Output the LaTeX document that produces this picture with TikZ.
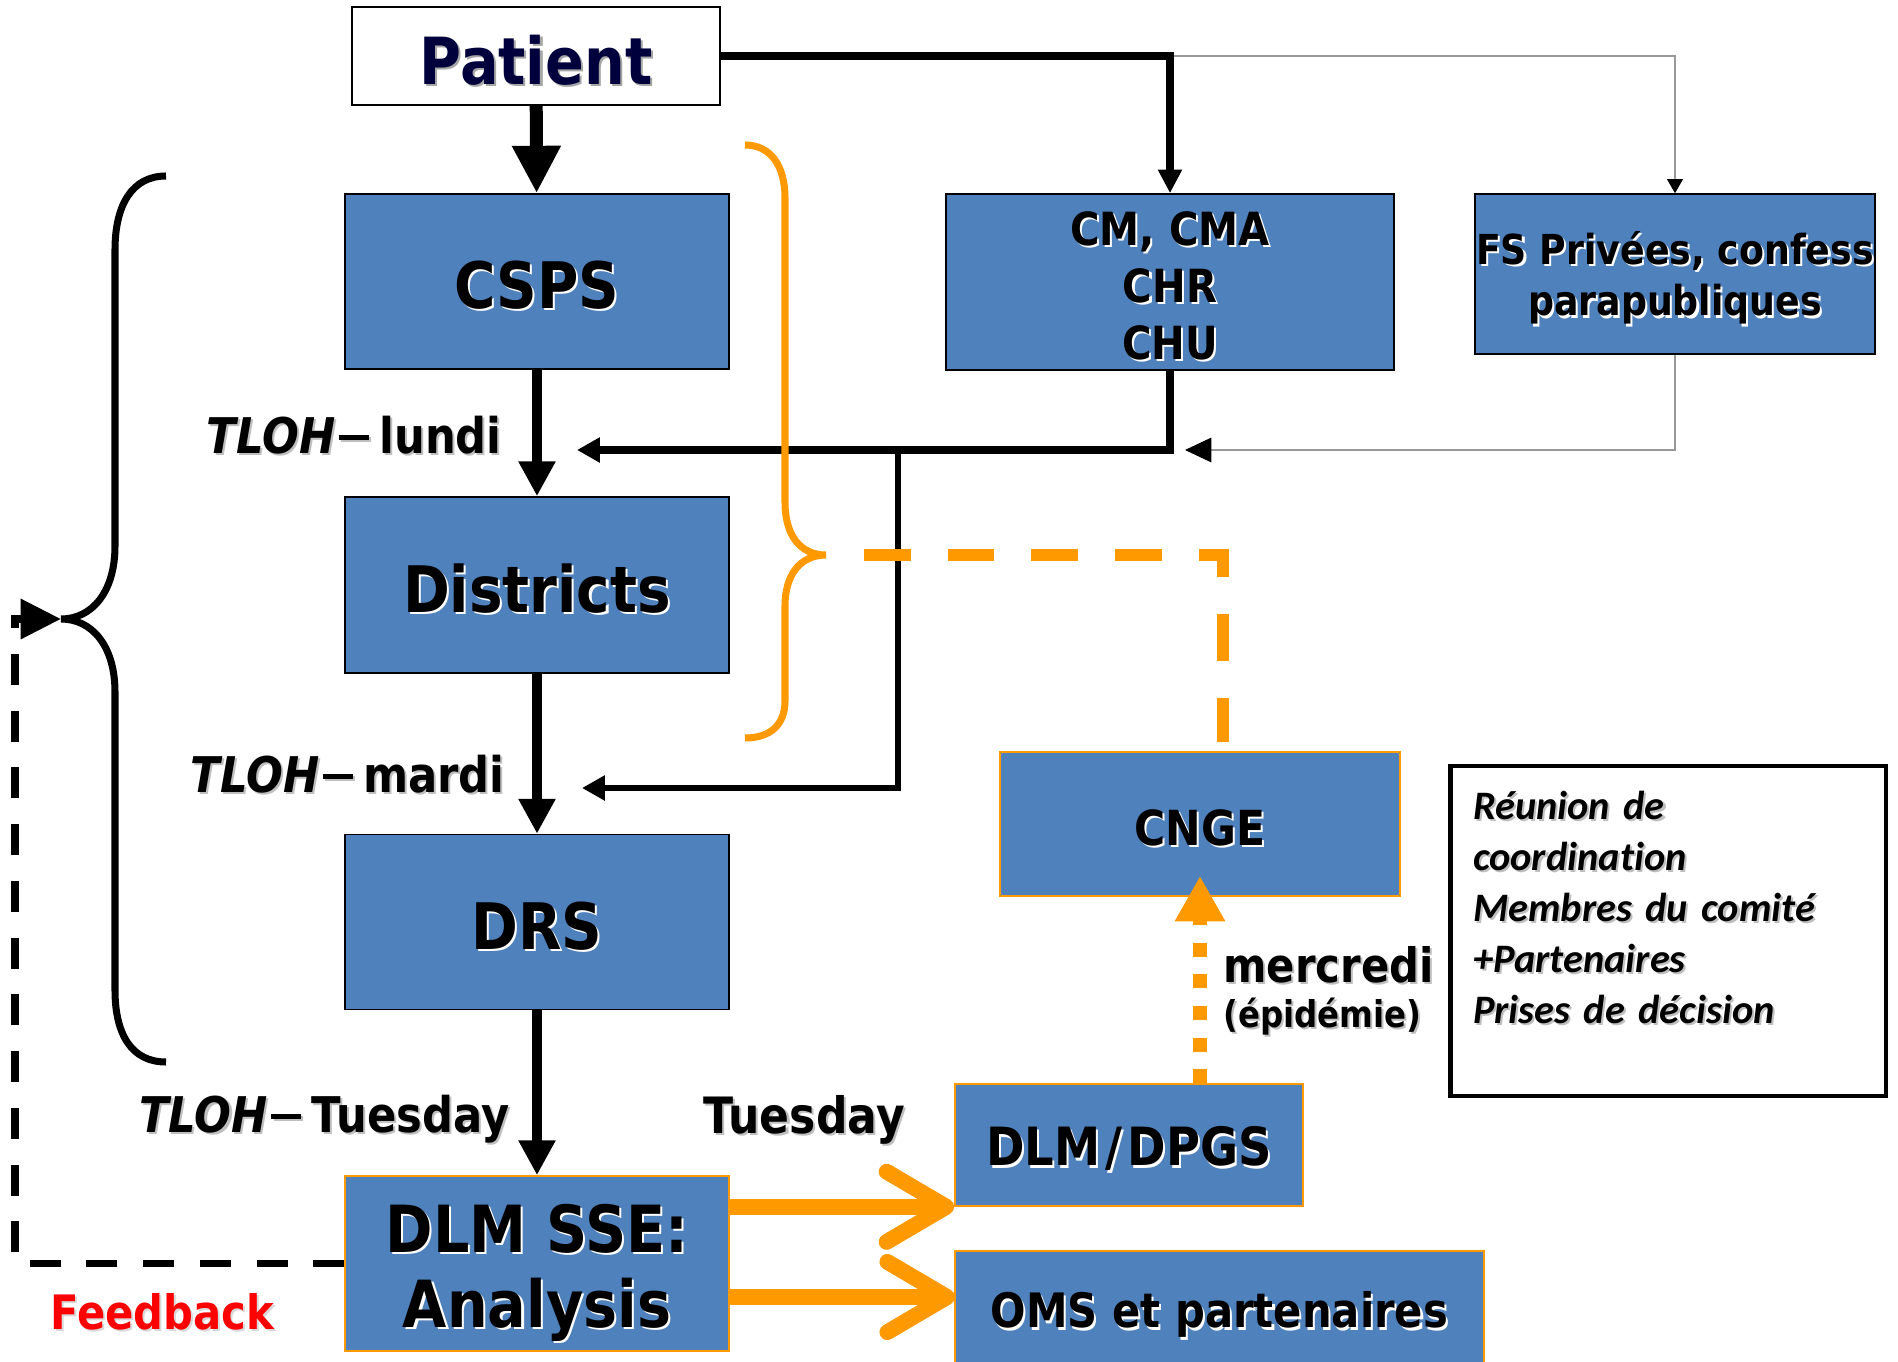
\documentclass[tikz,border=0pt]{standalone}
\usepackage{fontspec}
\setmainfont{DejaVu Sans}[FakeStretch=0.88]
\newfontfamily\calib{Carlito}[Ligatures=NoCommon]
\usetikzlibrary{arrows.meta}

\definecolor{boxblue}{RGB}{79,129,189}
\definecolor{orng}{RGB}{255,153,0}
\definecolor{navy}{RGB}{0,0,60}
\definecolor{fbred}{RGB}{255,0,0}

% text with a small offset shadow
\newcommand\shd[2][white]{\leavevmode\rlap{\kern1.2pt\raisebox{-1.2pt}{\color{#1}#2}}#2}
% box text, set a little lower in its box
\newcommand\bx[2][white]{\raisebox{0pt}[\dimexpr\height+5.6pt\relax][\depth]{\shd[#1]{#2}}}
\newcommand\tdash{\kern2pt\rule[7.6pt]{17pt}{2.6pt}\kern6pt}

\tikzset{
  box/.style={draw=black, line width=0.9pt, fill=boxblue, align=center, inner sep=0pt},
  obox/.style={box, draw=orng},
  lbl/.style={inner sep=0pt, font=\bfseries\fontsize{28}{32}\selectfont},
  mainarrow/.style={line width=6.2pt, -{Triangle[length=19.8pt,width=19.8pt]}},
  oarrow/.style={orng, line width=9pt, -{Straight Barb[length=34pt,width=40pt,round]}}
}

\begin{document}
\begin{tikzpicture}[x=0.02cm, y=-0.02cm]
  \fill[white] (0,0) rectangle (1898,1362);
  \useasboundingbox (0,0) rectangle (1898,1362);

  % left column
  \node[box, fill=white, text=navy, minimum width=7.36cm, minimum height=1.96cm,
        font=\bfseries\fontsize{37}{43}\selectfont] (patient) at (536,56) {\bx[gray!70]{Patient}};
  \node[box, minimum width=7.68cm, minimum height=3.5cm,
        font=\bfseries\fontsize{36.5}{43}\selectfont] (csps) at (537,281.5) {\bx{CSPS}};
  \node[box, minimum width=7.68cm, minimum height=3.52cm,
        font=\bfseries\fontsize{36.5}{43}\selectfont] (districts) at (537,585) {\bx{Districts}};
  \node[box, minimum width=7.68cm, minimum height=3.5cm,
        font=\bfseries\fontsize{36.5}{43}\selectfont] (drs) at (537,922) {\bx{DRS}};
  \node[obox, minimum width=7.68cm, minimum height=3.5cm,
        font=\bfseries\fontsize{37}{43}\selectfont] (dlmsse) at (537,1263.5)
        {\raisebox{0pt}[\dimexpr\height+12pt\relax][\depth]{\shd{DLM SSE:}}\\\shd{Analysis}};

  % right side
  \node[box, minimum width=8.96cm, minimum height=3.52cm,
        font=\bfseries\fontsize{26}{32.6}\selectfont] (cm) at (1170,282) {\bx{CM, CMA}\\\shd{CHR}\\\shd{CHU}};
  \node[box, minimum width=8cm, minimum height=3.2cm,
        font=\bfseries\fontsize{23.5}{29.5}\selectfont] (fs) at (1675,274) {\bx{FS Privées, confess}\\\shd{parapubliques}};
  \node[obox, minimum width=8cm, minimum height=2.88cm,
        font=\bfseries\fontsize{27.5}{32}\selectfont] (cnge) at (1200,824) {\bx{CNGE}};
  \node[obox, minimum width=6.96cm, minimum height=2.44cm,
        font=\bfseries\fontsize{30}{34}\selectfont] (dlmdpgs) at (1129,1145) {\bx{DLM\kern3pt/\kern3pt DPGS}};
  \node[obox, minimum width=10.58cm, minimum height=2.4cm,
        font=\bfseries\fontsize{27}{32}\selectfont] (oms) at (1219.5,1311) {\bx{OMS et partenaires}};
  \node[draw, line width=2.8pt, minimum width=8.72cm, minimum height=6.6cm, inner sep=0pt,
        text width=7.8cm, align=left, font=\calib\bfseries\itshape\fontsize{23}{29}\selectfont]
        (reunion) at (1668,931)
        {\shd[gray!50]{Réunion de}\\\shd[gray!50]{coordination}\\\shd[gray!50]{Membres du comité}\\
         \shd[gray!50]{+Partenaires}\\\shd[gray!50]{Prises de décision}\\[-2pt]\mbox{}};

  % labels
  \node[lbl, anchor=base east] (lundi) at (502,453) {\shd[gray!50]{\textit{TLOH}\tdash lundi}};
  \node[lbl, anchor=base east] (mardi) at (505,792) {\shd[gray!50]{\textit{TLOH}\tdash mardi}};
  \node[lbl, anchor=base east] (tuesday) at (510,1132) {\shd[gray!50]{\textit{TLOH}\tdash Tuesday}};
  \node[lbl, font=\bfseries\fontsize{28.5}{32}\selectfont, anchor=base west] (tuesday2) at (703,1133) {\shd[gray!50]{Tuesday}};
  \node[lbl, font=\bfseries\fontsize{27}{32}\selectfont, text=fbred, anchor=base west] (feedback) at (50,1329) {\shd[gray!30]{Feedback}};
  \node[lbl, font=\bfseries\fontsize{27}{32}\selectfont, anchor=base west] (mercredi) at (1223,982) {\shd[gray!50]{mercredi}};
  \node[lbl, font=\bfseries\fontsize{21}{25}\selectfont, anchor=base west] (epid) at (1223,1027) {\shd[gray!50]{(épidémie)}};

  \coordinate (lunditip) at (577,450);
  \coordinate (jct) at (898,450);
  \coordinate (marditip) at (582,788);
  \coordinate (fstip) at (1185,450);
  \coordinate (obrace) at (826,555);
  \coordinate (ostart) at (864,555);
  \coordinate (oend) at (1223,742);
  \coordinate (lbrace) at (61,619);
  \coordinate (fbcorner) at (15,619);
  \coordinate (omsin) at (955,1297);

  % flow
  \draw[gray!80, line width=0.6pt, -{Triangle[color=black,length=8pt,width=9pt]}] (patient.east) -| (fs.north);
  \draw[line width=4pt, -{Triangle[length=13.5pt,width=13pt]}] (patient.east) -| (cm.north);
  \draw[line width=7.4pt, -{Triangle[length=27pt,width=26pt]}] (patient) -- (csps);
  \draw[mainarrow] (csps) -- (districts);
  \draw[mainarrow] (districts) -- (drs);
  \draw[mainarrow] (drs) -- (dlmsse);
  \draw[line width=4.5pt, -{Triangle[length=13pt,width=13.6pt]}] (cm.south) |- (lunditip);
  \draw[line width=3.4pt, -{Triangle[length=13pt,width=13.6pt]}] (jct) |- (marditip);
  \draw[gray!80, line width=0.6pt, -{Triangle[color=black,length=15pt,width=14pt]}] (fs.south) |- (fstip);

  % braces
  \draw[line width=4pt] (166,176) .. controls (132,176) and (115,205) .. (115,250) -- (115,546)
    .. controls (115,592) and (92,619) .. (lbrace) .. controls (92,619) and (115,646) .. (115,692)
    -- (115,990) .. controls (115,1035) and (132,1062) .. (166,1062);
  \draw[orng, line width=4pt] (745,145) .. controls (770,145) and (785,165) .. (785,198) -- (785,502)
    .. controls (785,535) and (800,555) .. (obrace) .. controls (800,555) and (785,575) .. (785,606)
    -- (785,701) .. controls (785,725) and (770,738) .. (745,738);
  \draw[orng, line width=6.8pt, dash pattern=on 26.6pt off 21pt] (ostart) -| (oend);

  % outputs
  \draw[oarrow] (dlmsse.east |- dlmdpgs.south west) -- (dlmdpgs.south west);
  \draw[oarrow] (dlmsse.east |- omsin) -- (omsin);
  \draw[orng, line width=8.5pt, dash pattern=on 8pt off 10pt, -{Triangle[length=26pt,width=27pt]}]
    (dlmdpgs.north -| cnge.south) -- ([yshift=0.42cm]cnge.south);
  \draw[line width=4.5pt, dash pattern=on 17.6pt off 14.7pt, -{Triangle[length=23pt,width=22pt]}]
    (dlmsse.west) -| (fbcorner) -- (lbrace);
\end{tikzpicture}
\end{document}
